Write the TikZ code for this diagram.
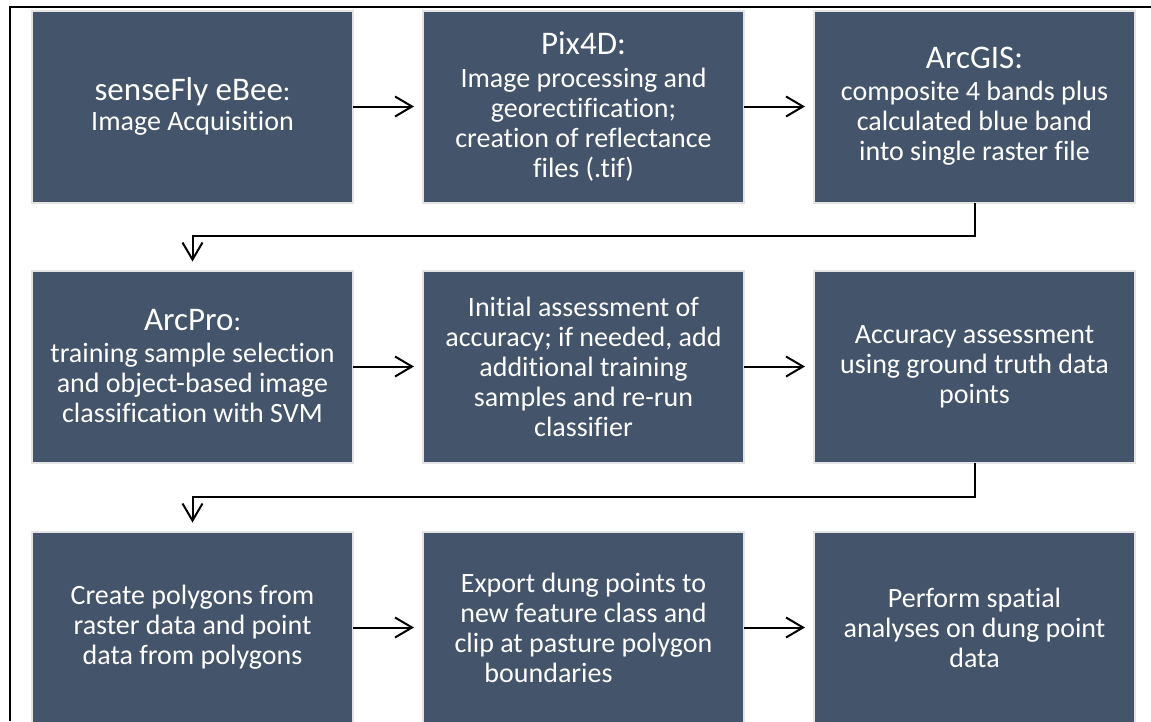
\documentclass[tikz,border=0pt]{standalone}
\usepackage{fontspec}
\setmainfont{Carlito}[Ligatures=NoCommon]
\usetikzlibrary{positioning,arrows.meta}
\definecolor{boxblue}{HTML}{44546A}
\definecolor{boxedge}{HTML}{E4E4E4}
\newcommand{\headfont}{\fontsize{33}{30}\selectfont}

\begin{document}
\begin{tikzpicture}[x=1pt, y=1pt, node distance=70pt, line width=2pt,
    stepbox/.style={rectangle, fill=boxblue, draw=boxedge, outer sep=0pt,
      minimum width=321pt, minimum height=192pt, inner sep=0pt,
      text=white, align=center, font=\fontsize{28}{30}\selectfont},
    flow/.style={-{Straight Barb[length=17pt, width=20pt]}, shorten >=9pt}]
        \useasboundingbox (0,0) rectangle (1151,-721);
        % Frame
        \draw (10,-721) -- (10,-7) -- (1151,-7);
        % Nodes in the first row
        \node[stepbox] (A1) at (192.5,-106.5) {{\headfont senseFly eBee}:\\Image Acquisition};
        \node[stepbox, right=of A1] (B1) {{\headfont Pix4D:}\\[3pt]Image processing and\\georectification;\\creation of reflectance\\files (.tif)};
        \node[stepbox, right=of B1] (C1) {{\headfont ArcGIS:}\\[2pt]composite 4 bands plus\\calculated blue band\\into single raster file};
        % Nodes in the second row
        \node[stepbox, below=68pt of A1] (A2) {{\headfont ArcPro}:\\[2pt]training sample selection\\and object-based image\\classification with SVM};
        \node[stepbox, right=of A2] (B2) {Initial assessment of\\accuracy; if needed, add\\additional training\\samples and re-run\\classifier};
        \node[stepbox, right=of B2] (C2) {Accuracy assessment\\using ground truth data\\points};
        % Nodes in the third row
        \node[stepbox, below=69pt of A2] (A3) {Create polygons from\\raster data and point\\data from polygons};
        \node[stepbox, right=of A3] (B3) {Export dung points to\\new feature class and\\clip at pasture polygon\\boundaries\hspace*{70pt}};
        \node[stepbox, right=of B3] (C3) {Perform spatial\\analyses on dung point\\data};
        % Edges
        \draw[flow] (A1) -- (B1);
        \draw[flow] (B1) -- (C1);
        \draw[flow] (C1.south) -- ++(0,-33) -| (A2.north);
        \draw[flow] (A2) -- (B2);
        \draw[flow] (B2) -- (C2);
        \draw[flow] (C2.south) -- ++(0,-34) -| (A3.north);
        \draw[flow] (A3) -- (B3);
        \draw[flow] (B3) -- (C3);
\end{tikzpicture}
\end{document}
